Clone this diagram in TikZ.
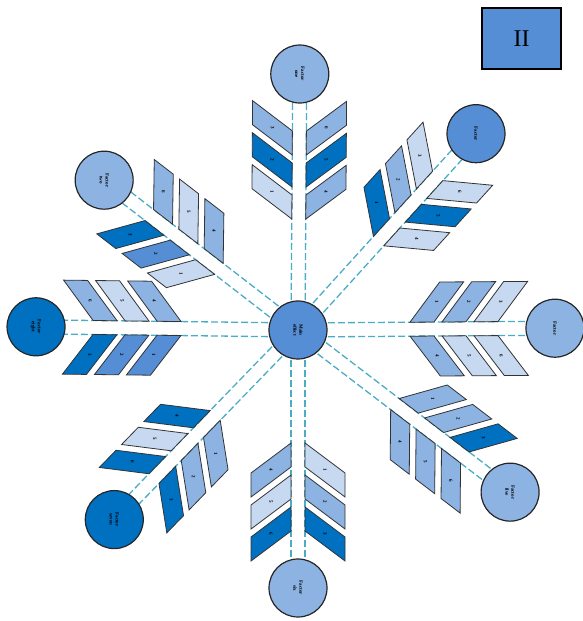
\documentclass[tikz,border=0pt]{standalone}
\usepackage{fontspec}
\setmainfont{Liberation Serif}
\usepackage{tikz}
\usetikzlibrary{calc,backgrounds}

\definecolor{darkblue}{HTML}{0070C0}
\definecolor{midblue}{HTML}{558ED5}
\definecolor{softblue}{HTML}{8DB3E2}
\definecolor{paleblue}{HTML}{C6D9F1}
\definecolor{dashcyan}{HTML}{4BACC6}

\begin{document}
\begin{tikzpicture}[x=1pt, y=1pt,
  hubc/.style={circle, draw=black!85, line width=1.2pt, minimum size=58pt, inner sep=0pt, align=center, rotate=-90, font=\fontsize{5}{6}\selectfont\bfseries},
  link/.style={draw=dashcyan, line width=1.3pt, dash pattern=on 7pt off 3pt},
  bone/.style={draw=black!80, line width=0.8pt},
  num/.style={inner sep=0pt, rotate=-90, font=\fontsize{5}{5}\selectfont\bfseries},
  tagbox/.style={draw, line width=2pt, fill=midblue, minimum width=79pt, minimum height=61pt, font=\fontsize{24}{24}\selectfont}
]
\useasboundingbox (0,0) rectangle (582,621);

% centre and label box
\node[hubc, fill=midblue] (hub) at (298,291) {Main\\effect};
\node[tagbox] (tag) at (521.5,582.5) {II};

% the eight arms: name/angle/length/fill/text/side a colours/side b colours
\foreach \nm/\ang/\len/\fc/\txt/\aa/\ab/\ac/\ba/\bb/\bc in {
  north/89.6/256/softblue/{Factor\\one}/paleblue/darkblue/softblue/softblue/darkblue/softblue,
  neast/47.8/265/midblue/{Factor}/darkblue/softblue/paleblue/paleblue/darkblue/paleblue,
  east/0.4/257/softblue/{Factor}/softblue/softblue/paleblue/softblue/paleblue/paleblue,
  seast/-37.4/267/softblue/{Factor\\five}/softblue/softblue/darkblue/softblue/softblue/softblue,
  south/-90/258/softblue/{Factor\\six}/paleblue/softblue/darkblue/softblue/paleblue/darkblue,
  swest/225.9/264/darkblue/{Factor\\seven}/softblue/softblue/darkblue/darkblue/paleblue/darkblue,
  west/179.3/262/darkblue/{Factor\\eight}/midblue/midblue/darkblue/softblue/paleblue/softblue,
  nwest/142.3/245/softblue/{Factor\\two}/paleblue/midblue/darkblue/softblue/paleblue/softblue}
{
  \node[hubc, fill=\fc] (\nm) at ($(hub)+(\ang:\len)$) {\txt};
  \begin{scope}[shift={(hub)}, rotate=\ang]
    \foreach \k/\ca/\cb [evaluate=\k as \u using \len-145+32*\k] in {0/\aa/\ba, 1/\ab/\bb, 2/\ac/\bc} {
      \draw[bone, fill=\ca] (\u,7) -- ++(24,0) -- ++(30,40) -- ++(-24,0) -- cycle;
      \draw[bone, fill=\cb] (\u,-7) -- ++(24,0) -- ++(30,-40) -- ++(-24,0) -- cycle;
      \node[num] (\nm-a\k) at (\u+27,27) {\the\numexpr\k+1\relax};
      \node[num] (\nm-b\k) at (\u+27,-27) {\the\numexpr\k+4\relax};
    }
  \end{scope}
}

% dashed spines
\begin{scope}[on background layer]
  \foreach \nm in {north,neast,east,seast,south,swest,west,nwest} {
    \draw[link] ($(hub)!7pt!90:(\nm)$) -- ($(\nm)!7pt!-90:(hub)$);
    \draw[link] ($(hub)!7pt!-90:(\nm)$) -- ($(\nm)!7pt!90:(hub)$);
  }
\end{scope}

\end{tikzpicture}
\end{document}
